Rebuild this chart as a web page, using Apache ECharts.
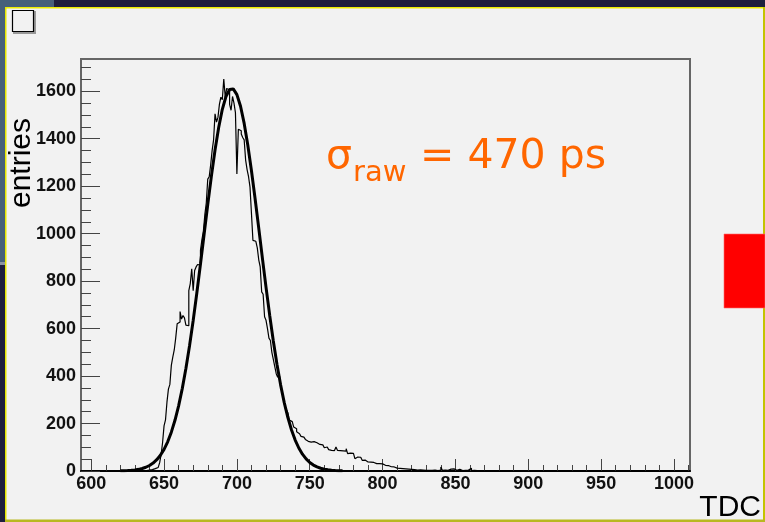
<!DOCTYPE html>
<html>
<head>
<meta charset="utf-8">
<script src="https://cdn.jsdelivr.net/npm/echarts@6/dist/echarts.min.js"></script>
<style>
html,body{margin:0;padding:0;background:#f2f2f2;}
#chart{width:765px;height:522px;}
</style>
</head>
<body>
<div id="chart"></div>
<script>
// ---- data ----
const xRange = [593, 1011];
const yRange = [0, 1736];
const xMajorTicks = [600, 650, 700, 750, 800, 850, 900, 950, 1000];
const xMinorTicks = [600,610,620,630,640,650,660,670,680,690,700,710,720,730,740,750,760,770,780,790,800,810,820,830,840,850,860,870,880,890,900,910,920,930,940,950,960,970,980,990,1000,1010];
const yMajorTicks = [0, 200, 400, 600, 800, 1000, 1200, 1400, 1600];
const yMinorTicks = [0,50,100,150,200,250,300,350,400,450,500,550,600,650,700,750,800,850,900,950,1000,1050,1100,1150,1200,1250,1300,1350,1400,1450,1500,1550,1600,1650,1700];

// histogram: bins of width 1 TDC, first bin low edge = histFirstBin
const histFirstBin = 636;
const histBinWidth = 1;
const histCounts = [
  1,2,3,4,5,6,8,10,12,15,            // 636-645
  20,35,70,120,190,215,290,345,365,445, // 646-655
  480,510,560,620,628,672,640,655,645,615, // 656-665
  612,760,790,852,760,845,860,870,868,930, // 666-675
  975,1010,1080,1130,1230,1240,1290,1350,1395,1505, // 676-685
  1470,1490,1545,1575,1565,1652,1575,1612,1605,1545, // 686-695
  1520,1578,1550,1510,1252,1440,1434,1420,1405,1395, // 696-705
  1310,1270,1240,1196,1085,972,968,960,940,890, // 706-715
  860,755,745,650,635,600,560,550,500,470, // 716-725
  440,410,395,412,368,330,300,270,258,245, // 726-735
  215,208,200,185,178,165,157,150,146,143, // 736-745
  136,133,125,128,122,118,124,116,119,115, // 746-755
  112,108,110,104,98,101,96,90,87,88, // 756-765
  86,89,101,87,86,88,85,87,84,94, // 766-775
  73,75,72,74,66,52,59,60,58,57, // 776-785
  45,46,44,38,39,37,38,36,34,31, // 786-795
  33,31,32,30,31,24,25,23,17,18, // 796-805
  16,17,15,12,10,11,9,10,8,9, // 806-815
  7,8,6,7,5,6,5,4,6,5, // 816-825
  3,4,5,3,4,3,5,3,2,4, // 826-835
  3,2,3,4,17,3,4,2,3,5, // 836-845
  8,6,9,4,3,6,7,3,2,4, // 846-855
  3,2,4,3,12,2,3,1,2,3, // 856-865
  1,8,2,1,0,6,1,2,0,1, // 866-875
  0,0,1,0,0,5,0,6,0,0, // 876-885
  1,0,0,2,0,0,0,0,0,0, // 886-895
  0,0,0,0,0 // 896-900
];

const fitStart = 620;
const fitStep = 2.5;
const fitValues = [
  0.7,1.1,1.8,2.9,4.5,7.0,10.6,15.8,23.2,33.5,
  47.6,66.4,91.2,123.1,163.6,213.6,274.5,347.1,431.5,527.5,
  634.2,750.1,872.4,997.8,1122.8,1242.4,1352.3,1447.6,1524.0,1578.1,
  1607.2,1609.9,1586.0,1536.7,1464.5,1372.6,1265.4,1147.3,1023.1,897.2,
  773.9,656.6,547.9,449.7,363.0,288.1,224.9,172.8,130.6,96.9,
  70.8,50.9,36.0,25.0,17.1,11.5,7.6,4.9,3.2,2.0,
  1.2,0.7
];

const yTitle = 'entries';
const xTitle = 'TDC';

// ---- build series data ----
const histPath = [[xRange[0], 0]];
histCounts.forEach(function (v, i) {
  const lo = histFirstBin + i * histBinWidth;
  histPath.push([lo, v]);
  histPath.push([lo + histBinWidth, v]);
});
histPath.push([histFirstBin + histCounts.length * histBinWidth, 0]);
histPath.push([xRange[1], 0]);

const fitPath = fitValues.map(function (v, i) { return [fitStart + i * fitStep, v]; });

const chart = echarts.init(document.getElementById('chart'), null, {renderer: 'canvas'});
const labelFont = {fontFamily: 'Liberation Sans', fontWeight: 'bold', fontSize: 18, color: '#111',
  formatter: function (v) { return String(v); }};

chart.setOption({
  animation: false,
  backgroundColor: '#f2f2f2',
  grid: {left: 81, right: 75, top: 59, bottom: 51, show: true, borderColor: '#666', borderWidth: 2, backgroundColor: 'transparent'},
  xAxis: [
    {
      type: 'value', min: xRange[0], max: xRange[1], position: 'bottom',
      axisLine: {show: true, onZero: false, lineStyle: {color: '#000', width: 2}},
      axisTick: {show: true, inside: true, length: 12, customValues: xMajorTicks, lineStyle: {color: '#444', width: 1}},
      axisLabel: Object.assign({show: true, margin: 4, customValues: xMajorTicks}, labelFont),
      splitLine: {show: false}
    },
    {
      type: 'value', min: xRange[0], max: xRange[1], position: 'bottom',
      axisLine: {show: false},
      axisTick: {show: true, inside: true, length: 6, customValues: xMinorTicks, lineStyle: {color: '#444', width: 1}},
      axisLabel: {show: false},
      splitLine: {show: false}
    }
  ],
  yAxis: [
    {
      type: 'value', min: yRange[0], max: yRange[1], position: 'left',
      axisLine: {show: true, onZero: false, lineStyle: {color: '#666', width: 2}},
      axisTick: {show: true, inside: true, length: 19, customValues: yMajorTicks, lineStyle: {color: '#444', width: 1}},
      axisLabel: Object.assign({show: true, margin: 5, customValues: yMajorTicks}, labelFont),
      splitLine: {show: false}
    },
    {
      type: 'value', min: yRange[0], max: yRange[1], position: 'left',
      axisLine: {show: false},
      axisTick: {show: true, inside: true, length: 10, customValues: yMinorTicks, lineStyle: {color: '#444', width: 1}},
      axisLabel: {show: false},
      splitLine: {show: false}
    }
  ],
  series: [
    {
      type: 'line', xAxisIndex: 0, yAxisIndex: 0, data: histPath,
      symbol: 'none', lineStyle: {color: '#000', width: 1.2}, z: 3
    },
    {
      type: 'line', xAxisIndex: 0, yAxisIndex: 0, data: fitPath,
      symbol: 'none', smooth: false, lineStyle: {color: '#000', width: 3}, z: 4
    }
  ],
  graphic: [
    {type: 'rect', shape: {x: 0, y: 0, width: 765, height: 7}, style: {fill: '#1e1f3d'}, silent: true},
    {type: 'rect', shape: {x: 0, y: 0, width: 54, height: 7}, style: {fill: '#46607a'}, silent: true},
    {type: 'rect', shape: {x: 0, y: 0, width: 5, height: 262}, style: {fill: '#46607a'}, silent: true},
    {type: 'rect', shape: {x: 0, y: 262, width: 5, height: 3}, style: {fill: '#8a93a0'}, silent: true},
    {type: 'rect', shape: {x: 0, y: 265, width: 5, height: 257}, style: {fill: '#1e1f3d'}, silent: true},
    {type: 'rect', shape: {x: 5, y: 7, width: 760, height: 1.5}, style: {fill: '#eeee00'}, silent: true},
    {type: 'rect', shape: {x: 5, y: 7, width: 1.5, height: 515}, style: {fill: '#e6e600'}, silent: true},
    {type: 'rect', shape: {x: 763, y: 7, width: 2, height: 515}, style: {fill: '#c4c400'}, silent: true},
    {type: 'rect', shape: {x: 5, y: 519.5, width: 760, height: 2.5}, style: {fill: '#b8b820'}, silent: true},
    {type: 'rect', shape: {x: 724, y: 234, width: 41, height: 74}, style: {fill: '#ff0000', stroke: '#ff6a6a', lineWidth: 0.6}, silent: true},
    {type: 'rect', shape: {x: 14, y: 12, width: 21, height: 21}, style: {fill: 'none', stroke: '#999', lineWidth: 2}, silent: true},
    {type: 'rect', shape: {x: 12.5, y: 10.5, width: 21, height: 21}, style: {fill: '#f2f2f2', stroke: '#000', lineWidth: 1.2}, silent: true},
    {type: 'text', x: 22, y: 163, rotation: Math.PI / 2,
      style: {text: yTitle, fontFamily: 'Liberation Sans', fontSize: 30, fill: '#000', align: 'center', verticalAlign: 'middle'}, silent: true},
    {type: 'text', x: 761, y: 507.5,
      style: {text: xTitle, fontFamily: 'Liberation Sans', fontSize: 30, fill: '#000', align: 'right', verticalAlign: 'middle'}, silent: true},
    {type: 'text', x: 326, y: 157,
      style: {text: 'σ', fontFamily: 'DejaVu Sans', fontSize: 41, fill: '#ff6600', align: 'left', verticalAlign: 'middle'}, silent: true},
    {type: 'text', x: 353, y: 173,
      style: {text: 'raw', fontFamily: 'DejaVu Sans', fontSize: 29, fill: '#ff6600', align: 'left', verticalAlign: 'middle'}, silent: true},
    {type: 'text', x: 420, y: 157,
      style: {text: '= 470 ps', fontFamily: 'DejaVu Sans', fontSize: 41, fill: '#ff6600', align: 'left', verticalAlign: 'middle'}, silent: true}
  ]
});
</script>
</body>
</html>
